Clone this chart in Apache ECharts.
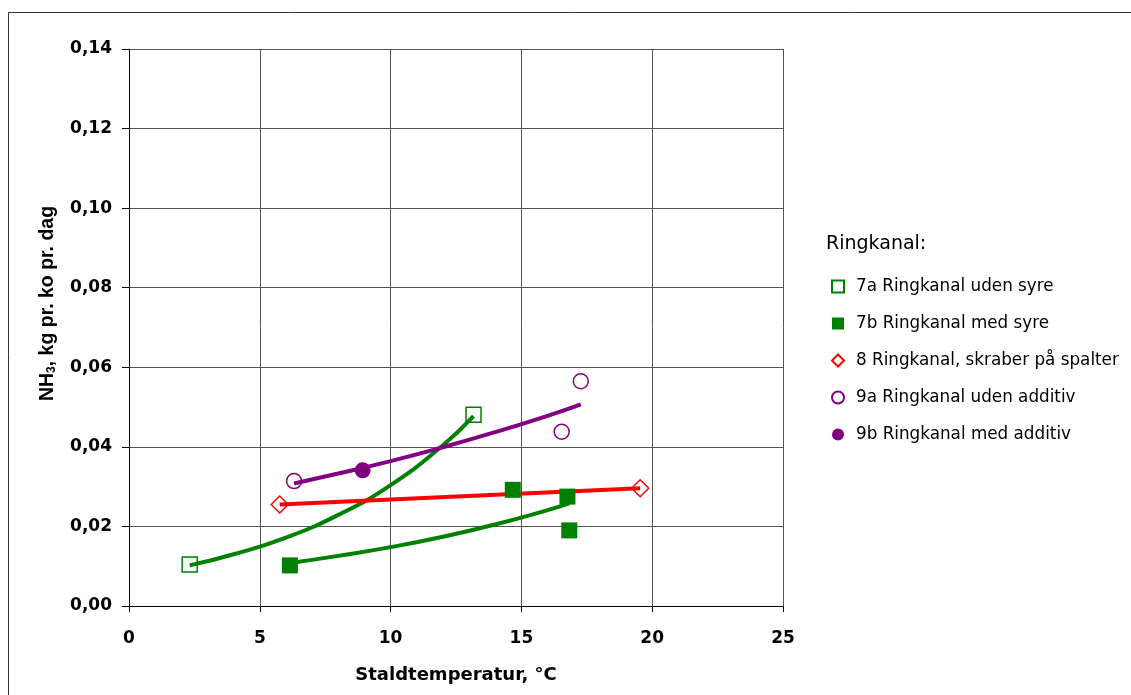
<!DOCTYPE html>
<html>
<head>
<meta charset="utf-8">
<script src="https://cdn.jsdelivr.net/npm/echarts@6/dist/echarts.min.js"></script>
<style>
  html, body { margin: 0; padding: 0; background: #fff; }
  #chart { width: 1131px; height: 695px; }
</style>
</head>
<body>
<div id="chart"></div>
<script>
// measured points [temperature, NH3]
const ring7a = [[2.32, 0.0104], [13.17, 0.0481]];
const ring7b = [[6.15, 0.0102], [14.67, 0.0292], [16.76, 0.0275], [16.83, 0.0190]];
const ring8 = [[5.76, 0.0255], [19.54, 0.0296]];
const ring9a = [[6.31, 0.0314], [16.54, 0.0438], [17.27, 0.0565]];
const ring9b = [[8.93, 0.0341]];

// trend lines
const trend7a = [[2.32, 0.0102], [4, 0.0130], [6, 0.0172], [8, 0.0229], [10, 0.0304], [12, 0.0404], [13.17, 0.0477]];
const trend7b = [[6.15, 0.0108], [8, 0.0126], [10, 0.0148], [12, 0.0174], [14, 0.0205], [16, 0.0241], [16.83, 0.0258]];
const trend8 = [[5.76, 0.0255], [19.54, 0.0296]];
const trend9 = [[6.31, 0.0308], [8, 0.0333], [10, 0.0364], [12, 0.0399], [14, 0.0437], [16, 0.0478], [17.27, 0.0507]];

const names = [
  '7a Ringkanal uden syre',
  '7b Ringkanal med syre',
  '8 Ringkanal, skraber på spalter',
  '9a Ringkanal uden additiv',
  '9b Ringkanal med additiv'
];

const GREEN = '#008000', RED = '#ff0000', PURPLE = '#800080';
const FONT = '"DejaVu Sans", Arial, sans-serif';
const ARIAL = 'Arial, "Liberation Sans", sans-serif';

const chart = echarts.init(document.getElementById('chart'));

function trendLine(data, color) {
  return {
    type: 'line',
    data: data,
    smooth: true,
    showSymbol: false,
    silent: true,
    lineStyle: { color: color, width: 4 },
    z: 3
  };
}

function points(name, data, symbol, size, color, filled) {
  return {
    name: name,
    type: 'scatter',
    data: data,
    symbol: symbol,
    symbolSize: size,
    itemStyle: filled
      ? { color: color, opacity: 1 }
      : { color: 'rgba(255,255,255,0)', borderColor: color, borderWidth: 1.5, opacity: 1 },
    z: 4
  };
}

const option = {
  animation: false,
  backgroundColor: '#fff',
  textStyle: { fontFamily: FONT },
  grid: { left: 129, top: 49, width: 654, height: 557 },
  graphic: [
    {
      type: 'rect',
      shape: { x: 8.5, y: 12.5, width: 1200, height: 800 },
      style: { fill: 'none', stroke: '#333', lineWidth: 1 },
      silent: true
    },
    {
      type: 'text',
      left: 826, top: 235,
      style: { text: 'Ringkanal:', font: '19px ' + FONT, fill: '#000' }
    }
  ],
  legend: {
    orient: 'vertical',
    left: 826,
    top: 273,
    itemGap: 20,
    itemWidth: 12,
    itemHeight: 12,
    data: names,
    textStyle: { fontSize: 16.8, color: '#000', fontFamily: FONT, padding: [0, 0, 0, 7] }
  },
  xAxis: {
    type: 'value',
    min: 0, max: 25, interval: 5,
    name: 'Staldtemperatur, °C',
    nameLocation: 'middle',
    nameGap: 60,
    nameTextStyle: { fontSize: 18, fontWeight: 'bold', color: '#000', fontFamily: FONT },
    axisLine: { onZero: false, lineStyle: { color: '#000', width: 1 } },
    axisTick: { show: true, length: 6, lineStyle: { color: '#000' } },
    axisLabel: { fontSize: 17, fontWeight: 'bold', color: '#000', margin: 24, fontFamily: FONT },
    splitLine: { show: true, lineStyle: { color: '#555', width: 1 } }
  },
  yAxis: {
    type: 'value',
    min: 0, max: 0.14, interval: 0.02,
    name: 'NH{sub|3}, kg pr. ko pr. dag',
    nameLocation: 'middle',
    nameRotate: 90,
    nameGap: 71,
    nameTextStyle: {
      fontSize: 19.5, fontWeight: 'bold', color: '#000', fontFamily: ARIAL,
      padding: [0, 0, 0, 48],
      rich: {
        sub: { fontSize: 12, fontWeight: 'bold', verticalAlign: 'bottom', padding: [9, 0, 0, 0], fontFamily: ARIAL }
      }
    },
    axisLine: { show: true, lineStyle: { color: '#000', width: 1 } },
    axisTick: { show: true, length: 7, lineStyle: { color: '#000' } },
    axisLabel: {
      fontSize: 17, fontWeight: 'bold', color: '#000', margin: 17, fontFamily: FONT,
      formatter: v => v.toFixed(2).replace('.', ',')
    },
    splitLine: { show: true, lineStyle: { color: '#555', width: 1 } }
  },
  series: [
    trendLine(trend7a, GREEN),
    trendLine(trend7b, GREEN),
    trendLine(trend8, RED),
    trendLine(trend9, PURPLE),
    points(names[0], ring7a, 'rect', 15, GREEN, false),
    points(names[1], ring7b, 'rect', 16, GREEN, true),
    points(names[2], ring8, 'diamond', 17, RED, false),
    points(names[3], ring9a, 'circle', 15, PURPLE, false),
    points(names[4], ring9b, 'circle', 16, PURPLE, true)
  ]
};

chart.setOption(option);
</script>
</body>
</html>
